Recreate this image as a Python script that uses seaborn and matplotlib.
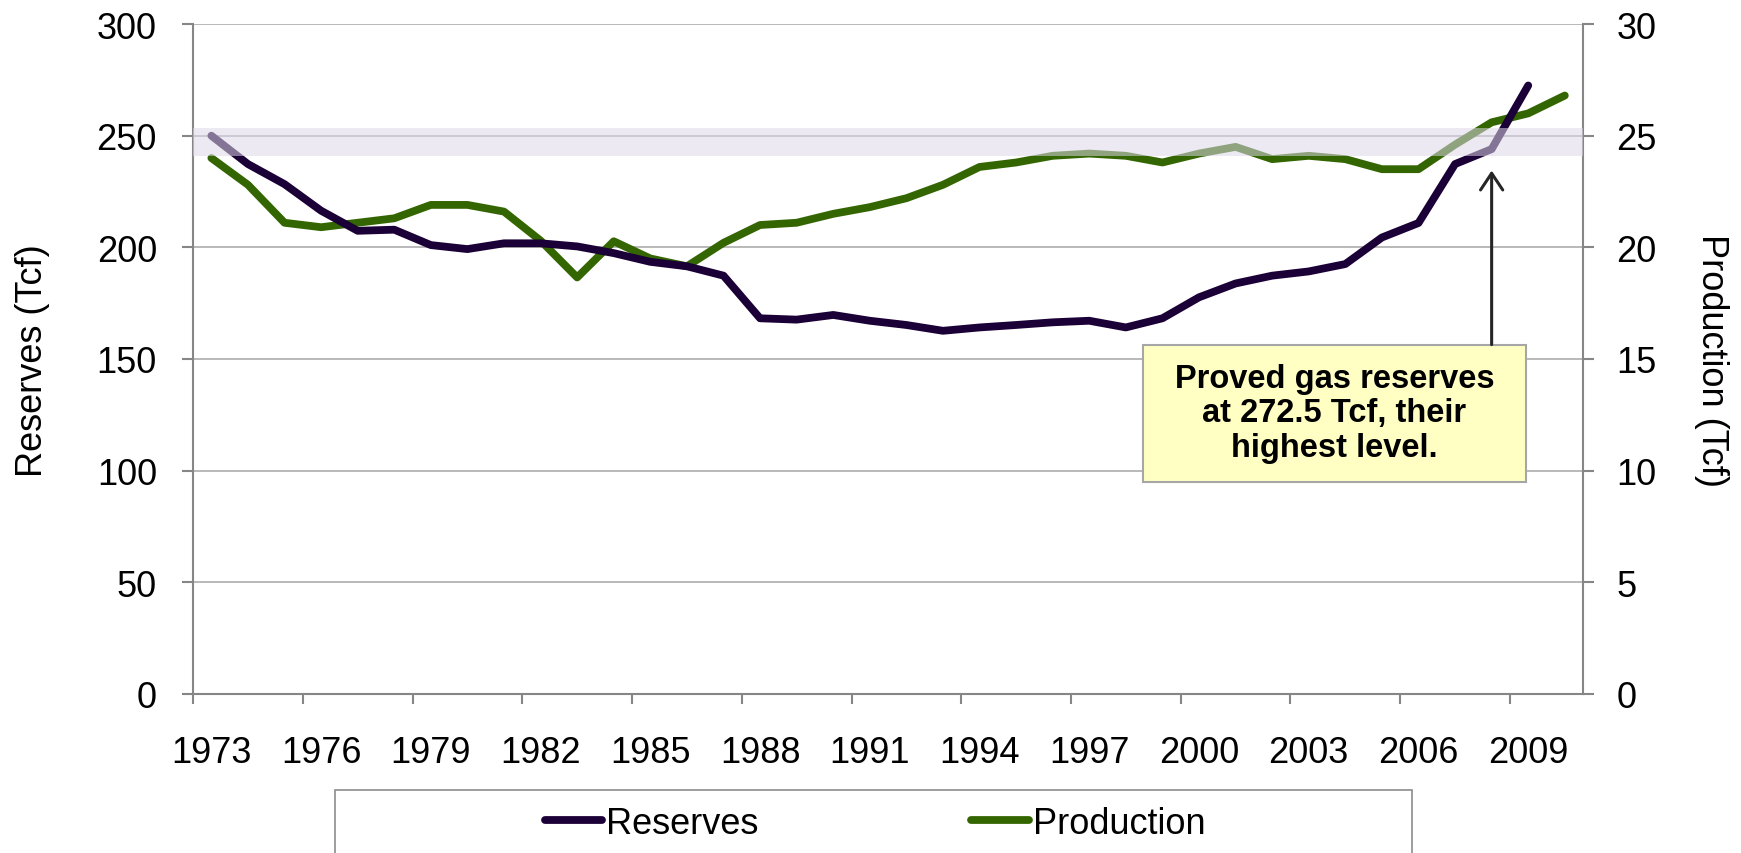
import matplotlib
matplotlib.use("Agg")
import matplotlib.pyplot as plt
import pandas as pd
import seaborn as sns
from matplotlib.lines import Line2D
from matplotlib.patches import Rectangle


years = list(range(1973, 2011))

# proved reserves, Tcf (1973-2009)
reserves = [250.0, 237.3, 228.3, 216.4, 207.4, 207.9, 201.0, 199.2, 201.8, 201.8,
            200.4, 197.4, 193.5, 191.5, 187.3, 168.2, 167.6, 169.7, 167.1, 165.2,
            162.6, 164.1, 165.2, 166.4, 167.1, 164.1, 168.2, 177.6, 183.8, 187.3,
            189.2, 192.5, 204.4, 210.9, 237.3, 244.0, 272.5]

# dry gas production, Tcf (1973-2010)
production = [24.0, 22.8, 21.1, 20.9, 21.1, 21.3, 21.9, 21.9, 21.6, 20.3,
              18.65, 20.27, 19.5, 19.15, 20.2, 21.0, 21.1, 21.5, 21.8, 22.2,
              22.8, 23.6, 23.8, 24.1, 24.2, 24.1, 23.8, 24.2, 24.5, 23.95,
              24.1, 23.95, 23.5, 23.5, 24.6, 25.6, 26.0, 26.8]

left_ticks = [0, 50, 100, 150, 200, 250, 300]
right_ticks = [0, 5, 10, 15, 20, 25, 30]
year_labels = years[::3]

BAND_LO, BAND_HI = 241.0, 253.3
NOTE = "Proved gas reserves\nat 272.5 Tcf, their\nhighest level."

RES_COLOR = "#1a0036"
PROD_COLOR = "#336600"
AXIS_GRAY = "#868686"
LW = 5.6

res_df = pd.DataFrame({"year": years[:len(reserves)], "reserves": reserves})
prod_df = pd.DataFrame({"year": years, "production": production})

sns.set_theme(style="white")
plt.rcParams["font.family"] = ["Liberation Sans", "DejaVu Sans"]
plt.rcParams["text.color"] = "black"

fig = plt.figure(figsize=(17.41, 8.54), dpi=100)
ax1 = fig.add_axes([0.1109, 0.1865, 0.7984, 0.7841])
ax2 = ax1.twinx()
# reserves axis on top so the band and note sit over both lines
ax1.set_zorder(2)
ax2.set_zorder(1)
ax1.patch.set_visible(False)

# production on the right axis, with the gridlines underneath it
ax2.set_ylim(0, 30)
ax2.set_yticks(right_ticks)
ax2.yaxis.grid(True, color="#a6a6a6", lw=1.1)
ax2.set_axisbelow(True)
sns.lineplot(data=prod_df, x="year", y="production", ax=ax2, color=PROD_COLOR,
             linewidth=LW, solid_capstyle="round", legend=False)

sns.lineplot(data=res_df, x="year", y="reserves", ax=ax1, color=RES_COLOR,
             linewidth=LW, solid_capstyle="round", legend=False, zorder=3)

ax1.set_ylim(0, 300)
ax1.set_yticks(left_ticks)
ax1.set_xlim(1972.5, 2010.5)
ax1.set_xticks(year_labels)
ax1.set_xticks([y - 0.5 for y in year_labels], minor=True)
ax1.set_xlabel("")
ax1.set_ylabel("")
ax2.set_ylabel("")

# translucent highlight band
ax1.axhspan(BAND_LO, BAND_HI, color="#ddd7e8", alpha=0.55, lw=0, zorder=5)

# callout box and arrow
ax1.add_patch(Rectangle((1998.47, 94.9), 10.47, 61.5, fc="#ffffc4", ec="#a6a6a6",
                        lw=1.5, zorder=6))
ax1.text(2003.7, 125.8, NOTE, ha="center", va="center", fontsize=23.5,
         fontweight="bold", linespacing=1.15, color="black", zorder=7)
ax1.annotate("", xy=(2008.0, 234.4), xytext=(2008.0, 156.4),
             arrowprops=dict(arrowstyle="->,head_length=0.6,head_width=0.4",
                             color="#262626", lw=2.2, mutation_scale=20,
                             shrinkA=0, shrinkB=0),
             zorder=7)

# axes styling
for side in ["top", "right"]:
    ax1.spines[side].set_visible(False)
for side in ["top", "left", "bottom"]:
    ax2.spines[side].set_visible(False)
for sp in [ax1.spines["left"], ax1.spines["bottom"], ax2.spines["right"]]:
    sp.set_color(AXIS_GRAY)
    sp.set_linewidth(1.5)

ax1.tick_params(axis="x", which="major", bottom=True, length=0, pad=29.5,
                labelsize=26, labelcolor="black")
ax1.tick_params(axis="x", which="minor", bottom=True, length=7.5, width=1.5,
                color=AXIS_GRAY, direction="out")
ax1.tick_params(axis="y", left=True, length=8, width=1.5, color=AXIS_GRAY,
                direction="out", pad=18, labelsize=26, labelcolor="black")
ax2.tick_params(axis="y", right=True, length=8, width=1.5, color=AXIS_GRAY,
                direction="out", pad=16, labelsize=26, labelcolor="black")

fig.text(33 / 1741, 0.578, "Reserves (Tcf)", rotation=90, ha="center",
         va="center", fontsize=26, color="black")
fig.text(1711 / 1741, 0.578, "Production (Tcf)", rotation=270, ha="center",
         va="center", fontsize=26, color="black")

# legend in a box cut off by the bottom edge
handles = [Line2D([], [], color=RES_COLOR, lw=LW, solid_capstyle="round"),
           Line2D([], [], color=PROD_COLOR, lw=LW, solid_capstyle="round")]
fig.legend(handles, ["Reserves", "Production"], loc="center",
           bbox_to_anchor=(0.5026, 0.035), ncol=2, frameon=False, fontsize=26,
           handlelength=1.6, handletextpad=0.1, columnspacing=5.9,
           labelcolor="black")
fig.add_artist(Rectangle((0.1924, -0.1), 0.6186, 0.1741, transform=fig.transFigure,
                         fill=False, ec="#8c8c8c", lw=1.2))

fig.savefig("out.png", dpi=100)
